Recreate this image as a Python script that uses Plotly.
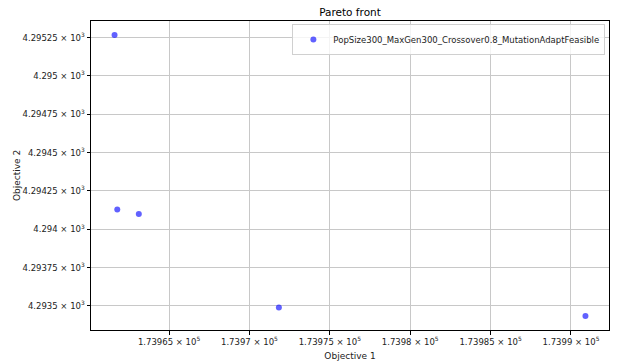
import plotly.graph_objects as go

obj1 = [173961.61, 173961.78, 173963.12, 173971.83, 173990.9]
obj2 = [4295.267, 4294.13, 4294.10, 4293.49, 4293.435]
series_name = "PopSize300_MaxGen300_Crossover0.8_MutationAdaptFeasible"

x_tickvals = [173965, 173970, 173975, 173980, 173985, 173990]
x_ticktext = ["1.73965 × 10<sup>5</sup>", "1.7397 × 10<sup>5</sup>", "1.73975 × 10<sup>5</sup>",
              "1.7398 × 10<sup>5</sup>", "1.73985 × 10<sup>5</sup>", "1.7399 × 10<sup>5</sup>"]
y_tickvals = [4293.5, 4293.75, 4294.0, 4294.25, 4294.5, 4294.75, 4295.0, 4295.25]
y_ticktext = ["4.2935 × 10<sup>3</sup>", "4.29375 × 10<sup>3</sup>", "4.294 × 10<sup>3</sup>",
              "4.29425 × 10<sup>3</sup>", "4.2945 × 10<sup>3</sup>", "4.29475 × 10<sup>3</sup>",
              "4.295 × 10<sup>3</sup>", "4.29525 × 10<sup>3</sup>"]

font = "DejaVu Sans"
fig = go.Figure()
fig.add_trace(go.Scatter(
    x=obj1, y=obj2, mode="markers", name=series_name,
    marker=dict(color="rgba(0,0,255,0.62)", size=6, line=dict(width=0)),
))

def rng(v):
    lo, hi = min(v), max(v)
    m = (hi - lo) * 0.05
    return [lo - m, hi + m]

axis_common = dict(
    showline=True, linecolor="black", linewidth=1, mirror=True,
    showgrid=True, gridcolor="#c8c8c8", gridwidth=1,
    ticks="outside", ticklen=3.5, tickcolor="black", tickwidth=1,
    zeroline=False, automargin=False,
    tickfont=dict(family=font, size=8.5, color="#222"),
)
fig.update_xaxes(range=rng(obj1), tickmode="array", tickvals=x_tickvals, ticktext=x_ticktext,
                 title=dict(text="Objective 1", font=dict(family=font, size=9, color="#222"), standoff=6),
                 **axis_common)
fig.update_yaxes(range=rng(obj2), tickmode="array", tickvals=y_tickvals, ticktext=y_ticktext,
                 title=dict(text="Objective 2", font=dict(family=font, size=9, color="#222"), standoff=0),
                 **axis_common)
fig.update_layout(
    width=618, height=362,
    margin=dict(l=91, r=9, t=21, b=32),
    paper_bgcolor="white", plot_bgcolor="white",
    title=dict(text="Pareto front", x=0.5, xanchor="center", xref="paper", automargin=False,
               y=1 - 9 / 362, yanchor="top", font=dict(family=font, size=10.5, color="black")),
    showlegend=True,
    legend=dict(x=0.993, y=0.99, xanchor="right", yanchor="top",
                bgcolor="rgba(255,255,255,0.8)", bordercolor="#d0d0d0", borderwidth=1,
                font=dict(family=font, size=8.5, color="#222"),
                itemsizing="trace", tracegroupgap=0),
)
fig.write_html("out.html")
